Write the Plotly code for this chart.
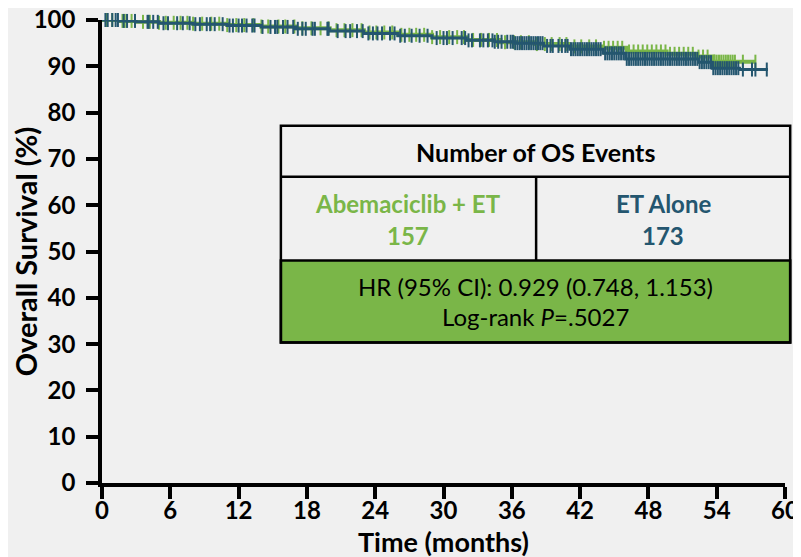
import numpy as np
import plotly.graph_objects as go

# ---------------- data ----------------
abema_t = [0, 1.5, 3, 5, 8, 11, 14, 17, 20, 23, 26, 29, 32, 35, 38, 41, 44, 46.1, 49.6, 52.3, 53.7]
abema_s = [100, 99.8, 99.6, 99.4, 99.2, 98.9, 98.6, 98.2, 97.8, 97.3, 96.8, 96.3, 95.7, 95.2, 94.8, 94.3, 94.0, 93.2, 92.7, 92.1, 91.0]
abema_end = 57.4

et_t = [0, 1.5, 3, 5, 8, 11, 14, 17, 20, 23, 26, 29, 32, 34.5, 36.3, 38.8, 41.1, 44.0, 46.0, 52.4, 53.6, 56.0]
et_s = [100, 99.8, 99.6, 99.3, 99.1, 98.8, 98.5, 98.1, 97.6, 97.1, 96.6, 96.1, 95.6, 95.3, 95.0, 94.4, 93.7, 92.8, 91.6, 90.9, 89.6, 89.3]
et_end = 58.5

abema_censor = [0.4, 0.9, 1.8, 2.0, 2.6, 3.6, 4.2, 5.0, 5.6, 6.3, 6.9, 7.5, 8.0, 8.8, 9.6, 10.3,
                11.0, 11.8, 12.5, 13.3, 14.0, 14.6, 15.5, 16.1, 16.9, 17.6, 18.4, 19.2, 19.9, 20.6,
                21.3, 22.0, 22.8, 23.5, 24.1, 24.8, 25.5, 26.3, 27.0, 27.6, 28.3, 29.0, 29.7, 30.5,
                31.2, 31.8, 32.6, 33.3, 34.0, 34.7, 35.4, 36.2, 36.8, 37.5, 38.2, 38.9, 39.5, 40.2,
                40.8, 41.5, 42.1, 42.8, 43.4, 44.1, 44.5, 44.9, 45.3, 45.7, 46.3, 46.7, 47.1, 47.5,
                47.9, 48.3, 48.7, 49.1, 49.5, 49.9, 50.3, 50.7, 51.1, 51.5, 51.9, 52.4, 52.8, 53.2,
                53.8, 54.0, 54.2, 54.4, 54.6, 54.8, 55.0, 55.2, 55.4, 55.6, 56.3, 57.4]

et_censor = [0.3, 0.5, 0.9, 1.2, 1.4, 1.9, 2.2, 2.9, 4.0, 4.1, 4.5, 4.9, 5.4, 5.8, 6.6, 7.1, 7.7,
             8.2, 8.6, 9.2, 9.5, 9.9, 10.6, 11.2, 11.5, 12.0, 12.3, 12.7, 13.2, 13.4, 14.1, 14.8,
             15.2, 15.4, 15.9, 16.3, 16.8, 17.2, 17.6, 17.9, 18.5, 18.7, 19.8, 19.9, 20.7, 21.4,
             21.8, 22.4, 22.9, 23.4, 23.8, 24.2, 24.6, 25.3, 25.7, 26.2, 26.6, 27.2, 27.9, 28.6,
             29.4, 30.0, 30.3, 30.8, 31.6, 31.9, 32.2, 32.5, 33.2, 33.5, 33.9, 34.3, 34.5, 34.8,
             35.1, 35.6, 35.9, 36.1,
             36.3, 36.5, 36.7, 36.9, 37.1, 37.3, 37.5, 37.7, 37.9, 38.1, 38.3, 38.5, 38.7,
             39.1, 39.4, 39.6, 40.1, 40.4, 40.7, 40.9,
             41.2, 41.4, 41.6, 41.8, 42.0, 42.2, 42.4, 42.6, 42.8, 43.0, 43.2, 43.4, 43.6, 43.8,
             44.2, 44.4, 44.6, 44.8, 45.0, 45.2, 45.4, 45.6, 45.8, 46.1, 46.3, 46.5, 46.7, 46.9,
             47.1, 47.3, 47.5, 47.7, 47.9, 48.1, 48.3, 48.5, 48.7, 48.9, 49.1, 49.3, 49.5, 49.7,
             49.9, 50.1, 50.3, 50.5, 50.7, 50.9, 51.1, 51.3, 51.5, 51.7, 51.9, 52.1, 52.3, 52.5,
             52.7, 52.9, 53.1, 53.3, 53.5, 53.7, 53.9, 54.1, 54.3, 54.5, 54.7, 54.9, 55.1, 55.3,
             55.5, 55.7, 55.9, 56.3, 57.1, 57.4, 58.4]

x_ticks = [0, 6, 12, 18, 24, 30, 36, 42, 48, 54, 60]
y_ticks = [0, 10, 20, 30, 40, 50, 60, 70, 80, 90, 100]

x_title = "Time (months)"
y_title = "Overall Survival (%)"
arm_names = ["Abemaciclib + ET", "ET Alone"]
os_events = [157, 173]
hr_text = "HR (95% CI): 0.929 (0.748, 1.153)"
logrank_text = "Log-rank <i>P</i>=.5027"

GREEN = "#7ab648"
BLUE = "#24566f"
BG = "#f0f0f0"
FONT = "Lato"


def step_xy(t, s, end):
    return list(t) + [end], list(s) + [s[-1]]


def censor_y(t, s, c):
    idx = np.searchsorted(np.array(t), np.array(c), side="right") - 1
    return list(np.array(s)[idx])


fig = go.Figure()

for t, s, end, cens, col, w, name in [
    (abema_t, abema_s, abema_end, abema_censor, GREEN, 4, arm_names[0]),
    (et_t, et_s, et_end, et_censor, BLUE, 3, arm_names[1]),
]:
    xs, ys = step_xy(t, s, end)
    fig.add_trace(go.Scatter(x=xs, y=ys, mode="lines", line=dict(color=col, width=w, shape="hv"),
                             name=name, showlegend=False, cliponaxis=False, hoverinfo="skip"))
    fig.add_trace(go.Scatter(x=cens, y=censor_y(t, s, cens), mode="markers",
                             marker=dict(symbol="line-ns", size=10, line=dict(color=col, width=2)),
                             showlegend=False, cliponaxis=False, hoverinfo="skip"))

# ---------------- table box (paper coords) ----------------
x0, x1, xm = 0.2619, 1.0076, 0.6356
y_top, y_r1, y_r2, y_bot = 0.7715, 0.6615, 0.4803, 0.3033
line = dict(color="black", width=2.5)
fig.add_shape(type="rect", xref="paper", yref="paper", x0=x0, x1=x1, y0=y_bot, y1=y_r2,
              fillcolor=GREEN, line=line, layer="above")
fig.add_shape(type="rect", xref="paper", yref="paper", x0=x0, x1=x1, y0=y_bot, y1=y_top,
              fillcolor="rgba(0,0,0,0)", line=line, layer="above")
fig.add_shape(type="line", xref="paper", yref="paper", x0=x0, x1=x1, y0=y_r1, y1=y_r1, line=line)
fig.add_shape(type="line", xref="paper", yref="paper", x0=xm, x1=xm, y0=y_r2, y1=y_r1, line=line)

cx = (x0 + x1) / 2
cl = (x0 + xm) / 2
cr = (xm + x1) / 2
ann = [
    ("<b>Number of OS Events</b>", cx, 0.7148, "black", 25),
    (f"<b>{arm_names[0]}</b>", cl, 0.6026, GREEN, 24),
    (f"<b>{os_events[0]}</b>", cl, 0.5335, GREEN, 24),
    (f"<b>{arm_names[1]}</b>", cr, 0.6026, BLUE, 24),
    (f"<b>{os_events[1]}</b>", cr, 0.5335, BLUE, 24),
    (hr_text, cx, 0.4235, "black", 24),
    (logrank_text, cx, 0.3592, "black", 24),
    (f"<b>{x_title}</b>", 0.5, -0.127, "black", 27),
]
for txt, ax, ay, col, sz in ann:
    fig.add_annotation(text=txt, x=ax, y=ay, xref="paper", yref="paper", showarrow=False,
                       font=dict(family=FONT, size=sz, color=col), xanchor="center", yanchor="middle")

axis_common = dict(showline=True, linecolor="black", linewidth=3.5, ticks="outside", ticklen=12,
                   tickwidth=3.5, tickcolor="black", showgrid=False, zeroline=False, automargin=False,
                   ticklabeloverflow="allow",
                   tickfont=dict(family=FONT, size=24, color="black"))

fig.update_xaxes(range=[0, 60], tickvals=x_ticks, ticktext=[f"<b>{v}</b>" for v in x_ticks],
                 ticklabelstandoff=-9, **axis_common)
fig.update_yaxes(range=[0, 100], tickvals=y_ticks, ticktext=[f"<b>{v}</b>" for v in y_ticks],
                 ticklabelstandoff=6,
                 title=dict(text=f"<b>{y_title}</b>", font=dict(family=FONT, size=29, color="black"),
                            standoff=0),
                 **axis_common)

# the page body adds an 8px offset; figure is sized so page fits the 801x557 window
fig.update_layout(width=793, height=549, margin=dict(l=94, r=15.5, t=12, b=73.7),
                  paper_bgcolor=BG, plot_bgcolor=BG, showlegend=False)

fig.write_html("out.html")
